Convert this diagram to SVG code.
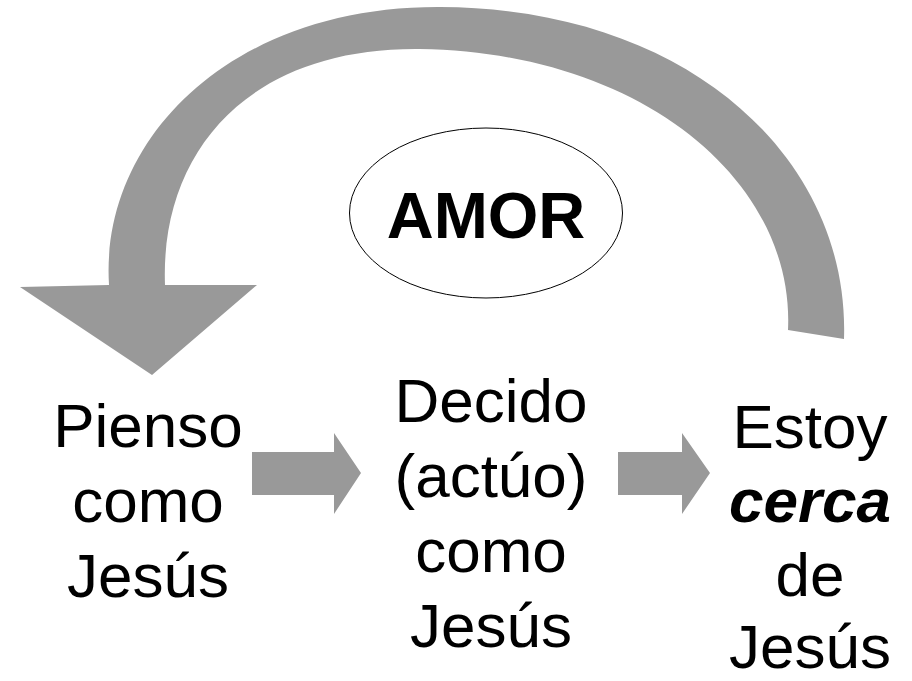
<svg xmlns="http://www.w3.org/2000/svg" width="912" height="681" viewBox="0 0 912 681">
<style>
.arr{fill:#999999;stroke:none}
.t{font-family:"Liberation Sans",Arial,sans-serif;font-size:62px;fill:#000;text-anchor:middle}
.b{font-weight:bold}
.bi{font-weight:bold;font-style:italic}
</style>
<rect width="912" height="681" fill="#fff"/>
<g id="connectors">
<path id="loop" class="arr" d="M 844 339 C 850 160 690 8 440 7 C 230 6 100 140 109 285 L 20 287 L 152 375 L 257 285 L 165 285 C 160 150 250 47 420 49 C 640 52 795 180 788 330 Z"/>
<path id="a1" class="arr" d="M 252 452 L 334 452 L 334 433 L 361 473 L 334 514 L 334 495 L 252 495 Z"/>
<path id="a2" class="arr" d="M 618 452 L 682 452 L 682 433 L 710 473 L 682 514 L 682 495 L 618 495 Z"/>
</g>
<g id="amor">
<ellipse cx="486" cy="213" rx="136.5" ry="85" fill="#fff" stroke="#000" stroke-width="1"/>
<text class="t b" x="486" y="238" style="font-size:65px">AMOR</text>
</g>
<g id="pienso">
<text class="t" x="148" y="447">Pienso</text>
<text class="t" x="148" y="522">como</text>
<text class="t" x="148" y="597">Jesús</text>
</g>
<g id="decido">
<text class="t" x="491" y="422">Decido</text>
<text class="t" x="491" y="497">(actúo)</text>
<text class="t" x="491" y="572">como</text>
<text class="t" x="491" y="647">Jesús</text>
</g>
<g id="estoy">
<text class="t" x="810" y="448">Estoy</text>
<text class="t bi" x="810" y="522">cerca</text>
<text class="t" x="810" y="596">de</text>
<text class="t" x="810" y="668">Jesús</text>
</g>
</svg>
